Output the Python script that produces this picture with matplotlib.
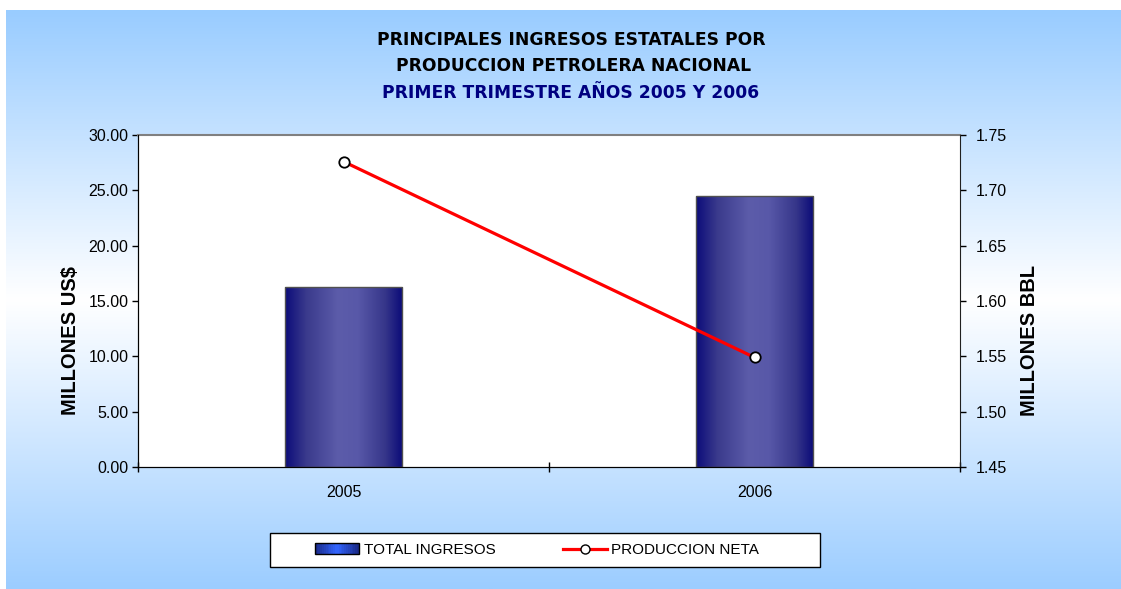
import numpy as np
import matplotlib.pyplot as plt
from matplotlib.patches import Rectangle
from matplotlib.lines import Line2D
from matplotlib.legend_handler import HandlerBase
from matplotlib.colors import LinearSegmentedColormap

plt.rcParams['font.family'] = ['Liberation Sans', 'DejaVu Sans']

years = ['2005', '2006']
ingresos = [16.25, 24.48]          # millones US$
produccion = [1.726, 1.549]        # millones BBL

title1 = 'PRINCIPALES INGRESOS ESTATALES POR'
title2 = ' PRODUCCION PETROLERA NACIONAL'
title3 = 'PRIMER TRIMESTRE AÑOS 2005 Y 2006'

W, H = 1121, 589
fig = plt.figure(figsize=(W / 100, H / 100), dpi=100)
fig.patch.set_facecolor('white')

# fondo degradado
bg = fig.add_axes([6 / W, 0, 1 - 6 / W, (H - 10) / H], zorder=-10)
bgcmap = LinearSegmentedColormap.from_list('bg', [(0.0, '#99ccff'), (0.5, '#ffffff'), (1.0, '#9ccdff')])
bg.imshow(np.linspace(0, 1, 256).reshape(-1, 1), aspect='auto', cmap=bgcmap, extent=[0, 1, 0, 1])
bg.set_axis_off()

ax = fig.add_axes([138 / W, (H - 467) / H, (960 - 138) / W, (467 - 135) / H])
ax.set_facecolor('white')

x = np.arange(len(years))
bars = ax.bar(x, ingresos, width=0.287, color='none', edgecolor='#505050', linewidth=1, zorder=3)

barcmap = LinearSegmentedColormap.from_list('bar', [(0.0, '#0c0c7a'), (0.18, '#3a3a8c'),
                                                    (0.45, '#5c5caa'), (0.62, '#5858a8'),
                                                    (0.85, '#36368a'), (1.0, '#0a0a78')])
grad = np.linspace(0, 1, 256).reshape(1, -1)
for b in bars:
    x0, y0 = b.get_x(), b.get_y()
    im = ax.imshow(grad, cmap=barcmap, aspect='auto', zorder=2,
                   extent=[x0, x0 + b.get_width(), y0, y0 + b.get_height()])
    im.set_clip_path(b)
    b.set_zorder(4)

ax.set_xlim(-0.5, 1.5)
ax.set_ylim(0, 30)
ax.set_yticks(np.arange(0, 30.1, 5))
ax.set_yticklabels([f'{v:.2f}' for v in np.arange(0, 30.1, 5)], fontsize=11.5)
ax.set_xticks(x)
ax.set_xticklabels(years, fontsize=11.5)
ax.set_xticks([-0.5, 0.5, 1.5], minor=True)
ax.tick_params(axis='x', which='major', length=0, pad=13)
ax.tick_params(axis='x', which='minor', direction='inout', length=7, width=1)
ax.tick_params(axis='y', direction='out', length=4, width=1, pad=3)
ax.spines['top'].set_color('#808080')
ax.spines['top'].set_linewidth(1.5)
for s in ['left', 'bottom']:
    ax.spines[s].set_color('black')
ax.spines['right'].set_visible(False)
ax.set_ylabel('MILLONES US$', fontsize=14.5, fontweight='bold')
ax.yaxis.set_label_coords(-0.0706, 0.382)

ax2 = ax.twinx()
ax2.plot(x, produccion, color='#ff0000', linewidth=2.3, marker='o', markersize=7.5,
         markerfacecolor='white', markeredgecolor='black', markeredgewidth=1.3, zorder=5)
ax2.set_ylim(1.45, 1.75)
ax2.set_yticks(np.arange(1.45, 1.751, 0.05))
ax2.set_yticklabels([f'{v:.2f}' for v in np.arange(1.45, 1.751, 0.05)], fontsize=11.5)
ax2.tick_params(axis='y', direction='out', length=4, width=1, pad=7)
ax2.spines['right'].set_color('#202020')
ax2.spines['top'].set_visible(False)
ax2.set_ylabel('MILLONES BBL', fontsize=14.5, fontweight='bold', rotation=90)
ax2.yaxis.set_label_coords(1.073, 0.382)

# titulo
fig.text(571 / W, 1 - 40 / H, title1, ha='center', va='center', fontsize=12.3,
         fontweight='bold', family='DejaVu Sans', color='black')
fig.text(571 / W, 1 - 66 / H, title2, ha='center', va='center', fontsize=12.3,
         fontweight='bold', family='DejaVu Sans', color='black')
fig.text(571 / W, 1 - 93 / H, title3, ha='center', va='center', fontsize=12.3,
         fontweight='bold', family='DejaVu Sans', color='#000080')


class GradHandler(HandlerBase):
    def create_artists(self, legend, orig, xd, yd, w, h, fontsize, trans):
        n = 24
        cm = LinearSegmentedColormap.from_list('lg', ['#1a2a8a', '#3366ff', '#1a2a8a'])
        arts = []
        for i in range(n):
            arts.append(Rectangle((xd + w * i / n, yd), w / n + 0.3, h,
                                  facecolor=cm(i / (n - 1)), edgecolor='none', transform=trans))
        arts.append(Rectangle((xd, yd), w, h, fill=False, edgecolor='black', linewidth=1, transform=trans))
        return arts


# leyenda
fig.patches.append(Rectangle((270 / W, (H - 567) / H), 550 / W, 34 / H, transform=fig.transFigure,
                             facecolor='white', edgecolor='black', linewidth=1))
bar_handle = Rectangle((0, 0), 1, 1)
line_handle = Line2D([], [], color='#ff0000', linewidth=2.3, marker='o', markersize=6.5,
                     markerfacecolor='white', markeredgecolor='black')
fig.legend([bar_handle, line_handle], ['TOTAL INGRESOS', 'PRODUCCION NETA'],
           handler_map={Rectangle: GradHandler()},
           loc='center', bbox_to_anchor=(537 / W, 1 - 550 / H), ncol=2, frameon=False,
           fontsize=11, handlelength=2.9, handletextpad=0.3, columnspacing=4.4)

fig.savefig('out.png', dpi=100)
